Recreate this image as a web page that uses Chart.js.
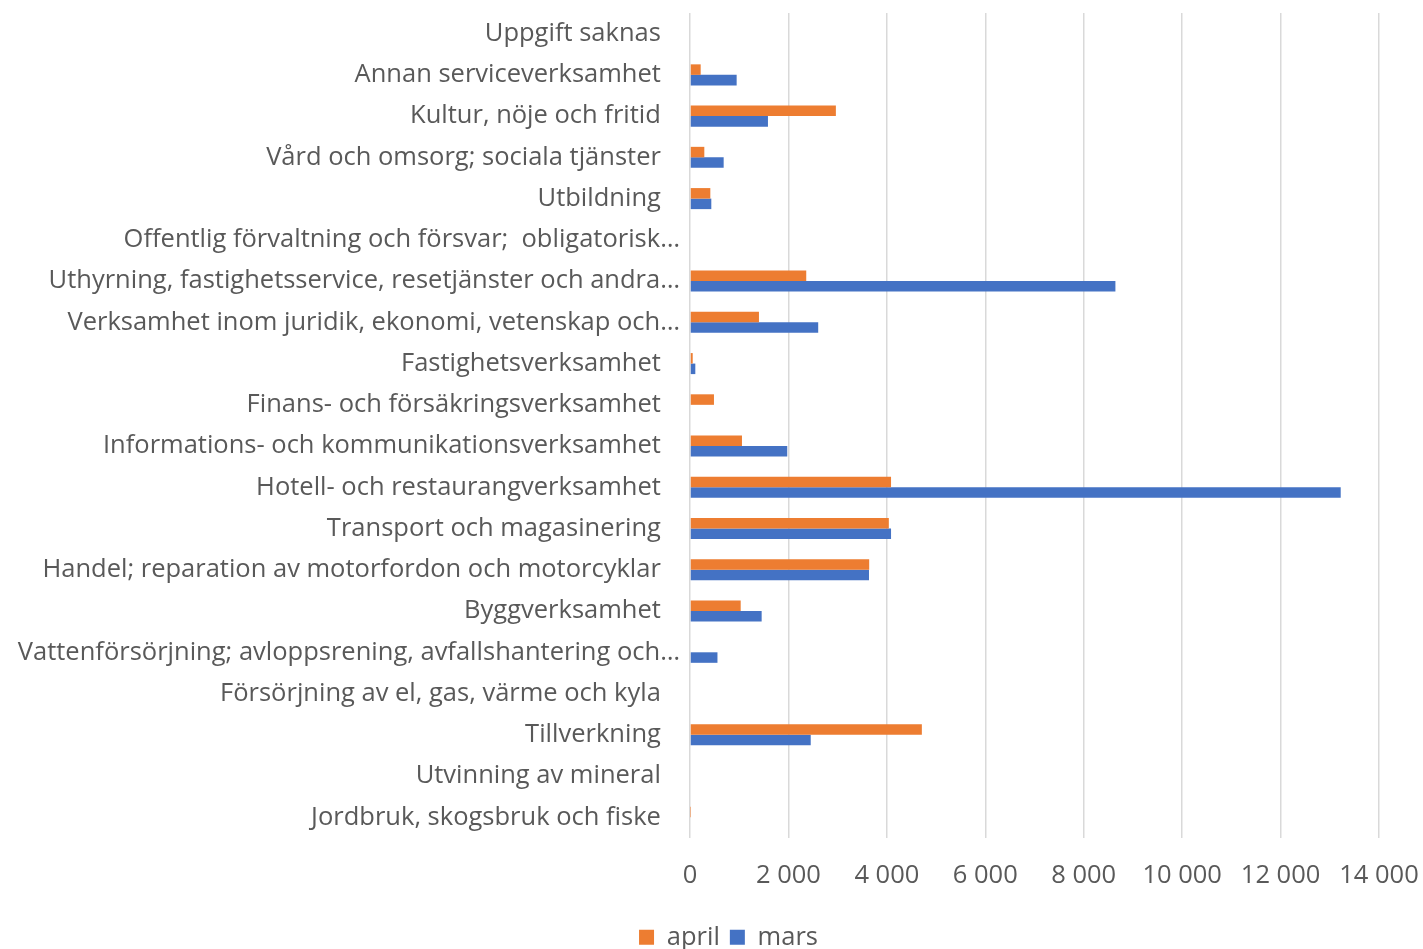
<!DOCTYPE html>
<html>
<head>
<meta charset="utf-8">
<script src="https://cdn.jsdelivr.net/npm/chart.js@4"></script>
<style>
  body { margin: 0; background: #fff; }
</style>
</head>
<body>
<canvas id="diagram" width="1423" height="949"></canvas>
<script>
const branscher = [
    'Uppgift saknas',
    'Annan serviceverksamhet',
    'Kultur, nöje och fritid',
    'Vård och omsorg; sociala tjänster',
    'Utbildning',
    'Offentlig förvaltning och försvar;  obligatorisk…',
    'Uthyrning, fastighetsservice, resetjänster och andra…',
    'Verksamhet inom juridik, ekonomi, vetenskap och…',
    'Fastighetsverksamhet',
    'Finans- och försäkringsverksamhet',
    'Informations- och kommunikationsverksamhet',
    'Hotell- och restaurangverksamhet',
    'Transport och magasinering',
    'Handel; reparation av motorfordon och motorcyklar',
    'Byggverksamhet',
    'Vattenförsörjning; avloppsrening, avfallshantering och…',
    'Försörjning av el, gas, värme och kyla',
    'Tillverkning',
    'Utvinning av mineral',
    'Jordbruk, skogsbruk och fiske'
];
const april = [0, 217, 2964, 291, 413, 0, 2362, 1401, 55, 487, 1056, 4085, 4040, 3641, 1030, 0, 0, 4711, 0, 5];
const mars = [0, 948, 1584, 684, 433, 0, 8644, 2605, 108, 0, 1976, 13222, 4085, 3637, 1456, 558, 0, 2453, 0, 0];
const xTicks = [0, 2000, 4000, 6000, 8000, 10000, 12000, 14000];

const textColor = '#595959';
const font = { family: 'Open Sans', size: 25.5 };

const diagram = document.getElementById('diagram').getContext('2d');
const myChart = new Chart(diagram, {
    type: 'bar',
    data: {
        labels: branscher,
        datasets: [{
            label: 'april',
            data: april,
            backgroundColor: '#ED7D31',
            categoryPercentage: 0.51,
            barPercentage: 1.0
        }, {
            label: 'mars',
            data: mars,
            backgroundColor: '#4472C4',
            categoryPercentage: 0.51,
            barPercentage: 1.0
        }]
    },
    options: {
        indexAxis: 'y',
        responsive: false,
        animation: false,
        layout: {
            // negative right padding just pushes the legend centre right
            padding: { top: 13, left: 0, right: -34, bottom: -11 }
        },
        plugins: {
            legend: {
                position: 'bottom',
                labels: {
                    color: textColor,
                    font: font,
                    boxWidth: 15,
                    boxHeight: 15,
                    padding: 10
                }
            },
            tooltip: { enabled: false }
        },
        scales: {
            x: {
                min: 0,
                max: 14000,
                afterBuildTicks: (scale) => {
                    scale.ticks = xTicks.map(v => ({ value: v }));
                },
                afterFit: (scale) => {
                    scale.paddingLeft = 0;
                    scale.paddingRight = 44;
                },
                ticks: {
                    color: textColor,
                    font: font,
                    padding: 23,
                    maxRotation: 0,
                    callback: (v) => String(v).replace(/\B(?=(\d{3})+(?!\d))/g, ' ')
                },
                grid: {
                    color: '#d9d9d9',
                    lineWidth: 1.5,
                    drawTicks: false
                },
                border: { display: false }
            },
            y: {
                afterFit: (scale) => {
                    scale.width = 690;
                    scale.paddingTop = 0;
                    scale.paddingBottom = 0;
                },
                ticks: {
                    color: textColor,
                    font: font,
                    padding: 2,
                    autoSkip: false,
                    callback: (v, i) => branscher[i].endsWith('…') ? branscher[i] : branscher[i] + '\u2002\u2005'
                },
                grid: { display: false },
                border: { display: false }
            }
        }
    }
});
</script>
</body>
</html>
